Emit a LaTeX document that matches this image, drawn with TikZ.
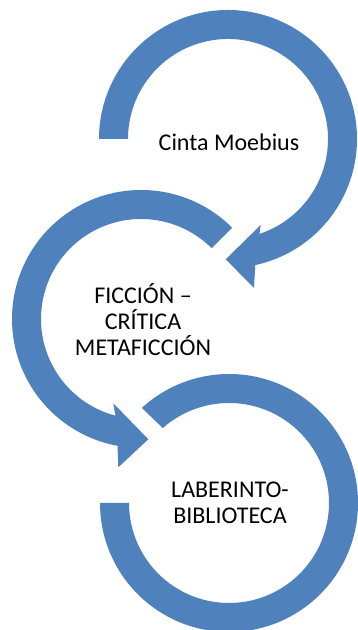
\documentclass[tikz,border=0pt]{standalone}
\usepackage{fontspec}
\setmainfont{Carlito}
\usetikzlibrary{calc}
\definecolor{arrowblue}{HTML}{4F81BD}

\begin{document}
\begin{tikzpicture}[x=0.75pt,y=0.75pt,
        band/.style={fill=arrowblue},
        label/.style={align=center,font=\fontsize{18pt}{19.5pt}\selectfont}]
        \useasboundingbox (0,0) rectangle (357,630);
        \coordinate (c1) at (228,491);
        \coordinate (c2) at (141,311);
        \coordinate (c3) at (229,127);

        % top arrow, clockwise
        \fill[band] ($(c1)+(180:129)$) arc[start angle=180,end angle=-77.8,radius=129]
            -- (254,342) -- (225.7,370.7) -- (260.7,405)
            -- ($(c1)+(-71.7:100)$) arc[start angle=-71.7,end angle=180,radius=100] -- cycle;
        % middle arrow, counterclockwise
        \fill[band] ($(c2)+(45:129)$) arc[start angle=45,end angle=259.5,radius=129]
            -- (118.3,162.7) -- (148.3,190.7) -- (113.3,226.7)
            -- ($(c2)+(255.2:100)$) arc[start angle=255.2,end angle=45,radius=100] -- cycle;
        % bottom ring
        \fill[band] ($(c3)+(180:129)$) arc[start angle=180,end angle=492.5,radius=129]
            -- ($(c3)+(491.5:100)$) arc[start angle=491.5,end angle=180,radius=100] -- cycle;

        \node[label] (cinta) at (229,487.5) {Cinta Moebius};
        \node[label] (ficcion) at (143,310) {FICCIÓN –\\CRÍTICA\\METAFICCIÓN};
        \node[label] (laberinto) at (230,127) {LABERINTO-\\BIBLIOTECA};
    \end{tikzpicture}
\end{document}
